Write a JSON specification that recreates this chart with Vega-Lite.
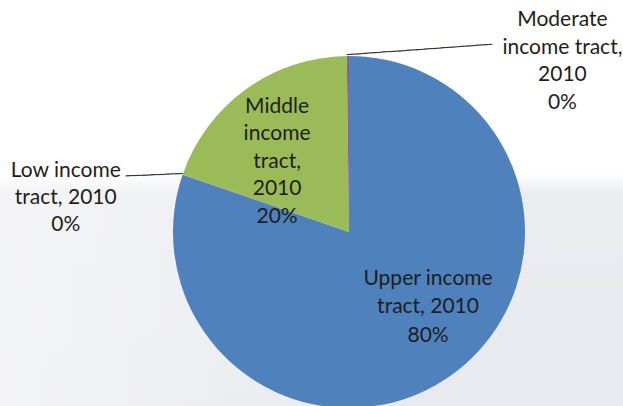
{
  "$schema": "https://vega.github.io/schema/vega-lite/v6.json",
  "width": 698,
  "height": 464,
  "padding": 0,
  "autosize": {"type": "none"},
  "background": "#ffffff",
  "config": {"view": {"stroke": null}},
  "data": {
    "values": [
      {"cat": "Upper", "share": 0.8027, "ord": 1, "label": "Upper income|tract, 2010|80%"},
      {"cat": "Low", "share": 0.0003, "ord": 2, "label": "Low income|tract, 2010|0%"},
      {"cat": "Middle", "share": 0.195, "ord": 3, "label": "Middle|income|tract,|2010|20%"},
      {"cat": "Moderate", "share": 0.002, "ord": 4, "label": "Moderate|income tract,|2010|0%"}
    ]
  },
  "layer": [
    {
      "data": {"values": [{"bg": 1}]},
      "mark": {
        "type": "rect",
        "fill": {
          "gradient": "linear", "x1": 0, "y1": 0, "x2": 0, "y2": 1,
          "stops": [
            {"offset": 0, "color": "#ffffff"},
            {"offset": 0.375, "color": "#ffffff"},
            {"offset": 0.415, "color": "#ebecf0"},
            {"offset": 1, "color": "#e8e9ee"}
          ]
        }
      },
      "encoding": {}
    },
    {
      "data": {"values": [{"bg": 2}]},
      "mark": {
        "type": "rect",
        "fill": {
          "gradient": "linear", "x1": 0, "y1": 0, "x2": 1, "y2": 0,
          "stops": [
            {"offset": 0, "color": "rgba(255,255,255,0.45)"},
            {"offset": 0.6, "color": "rgba(255,255,255,0)"},
            {"offset": 1, "color": "rgba(255,255,255,0)"}
          ]
        }
      },
      "encoding": {}
    },
    {
      "mark": {"type": "arc", "outerRadius": 176, "stroke": null},
      "encoding": {
        "theta": {"field": "share", "type": "quantitative", "stack": true},
        "order": {"field": "ord", "type": "quantitative"},
        "color": {
          "field": "cat", "type": "nominal", "legend": null,
          "scale": {"domain": ["Upper", "Low", "Middle", "Moderate"], "range": ["#4f81bd", "#c0504d", "#9bbb59", "#8064a2"]}
        }
      }
    },
    {
      "mark": {"type": "text", "radius": 112, "dx": 14, "dy": -44.5, "font": "Lato", "fontSize": 21, "lineHeight": 28.5, "lineBreak": "|", "align": "center", "baseline": "middle", "color": "#1e1e1e"},
      "encoding": {
        "theta": {"field": "share", "type": "quantitative", "stack": true},
        "order": {"field": "ord", "type": "quantitative"},
        "text": {"condition": {"test": "datum.cat === 'Upper'", "field": "label"}, "value": ""}
      }
    },
    {
      "mark": {"type": "text", "radius": 99, "dx": -14, "dy": -45, "font": "Lato", "fontSize": 21, "lineHeight": 27.5, "lineBreak": "|", "align": "center", "baseline": "middle", "color": "#1e1e1e"},
      "encoding": {
        "theta": {"field": "share", "type": "quantitative", "stack": true},
        "order": {"field": "ord", "type": "quantitative"},
        "text": {"condition": {"test": "datum.cat === 'Middle'", "field": "label"}, "value": ""}
      }
    },
    {
      "mark": {"type": "text", "radius": 270, "dx": -28, "dy": 27, "font": "Lato", "fontSize": 21, "lineHeight": 27, "lineBreak": "|", "align": "center", "baseline": "middle", "color": "#1e1e1e"},
      "encoding": {
        "theta": {"field": "share", "type": "quantitative", "stack": true},
        "order": {"field": "ord", "type": "quantitative"},
        "text": {"condition": {"test": "datum.cat === 'Low'", "field": "label"}, "value": ""}
      }
    },
    {
      "mark": {"type": "text", "radius": 171, "dx": 214.5, "dy": -41, "font": "Lato", "fontSize": 21, "lineHeight": 27.5, "lineBreak": "|", "align": "center", "baseline": "middle", "color": "#1e1e1e"},
      "encoding": {
        "theta": {"field": "share", "type": "quantitative", "stack": true},
        "order": {"field": "ord", "type": "quantitative"},
        "text": {"condition": {"test": "datum.cat === 'Moderate'", "field": "label"}, "value": ""}
      }
    },
    {
      "mark": {"type": "text", "radius": 176, "dx": 0, "dy": -0.5, "angle": 357.5, "font": "DejaVu Sans", "fontSize": 13.5, "align": "right", "baseline": "middle", "color": "#333333"},
      "encoding": {
        "theta": {"field": "share", "type": "quantitative", "stack": true},
        "order": {"field": "ord", "type": "quantitative"},
        "text": {"condition": {"test": "datum.cat === 'Low'", "value": "───────"}, "value": ""}
      }
    },
    {
      "mark": {"type": "text", "radius": 176, "dx": -1, "dy": -0.5, "angle": 355.9, "font": "DejaVu Sans", "fontSize": 14.25, "align": "left", "baseline": "middle", "color": "#333333"},
      "encoding": {
        "theta": {"field": "share", "type": "quantitative", "stack": true},
        "order": {"field": "ord", "type": "quantitative"},
        "text": {"condition": {"test": "datum.cat === 'Moderate'", "value": "─────────────────"}, "value": ""}
      }
    }
  ]
}
